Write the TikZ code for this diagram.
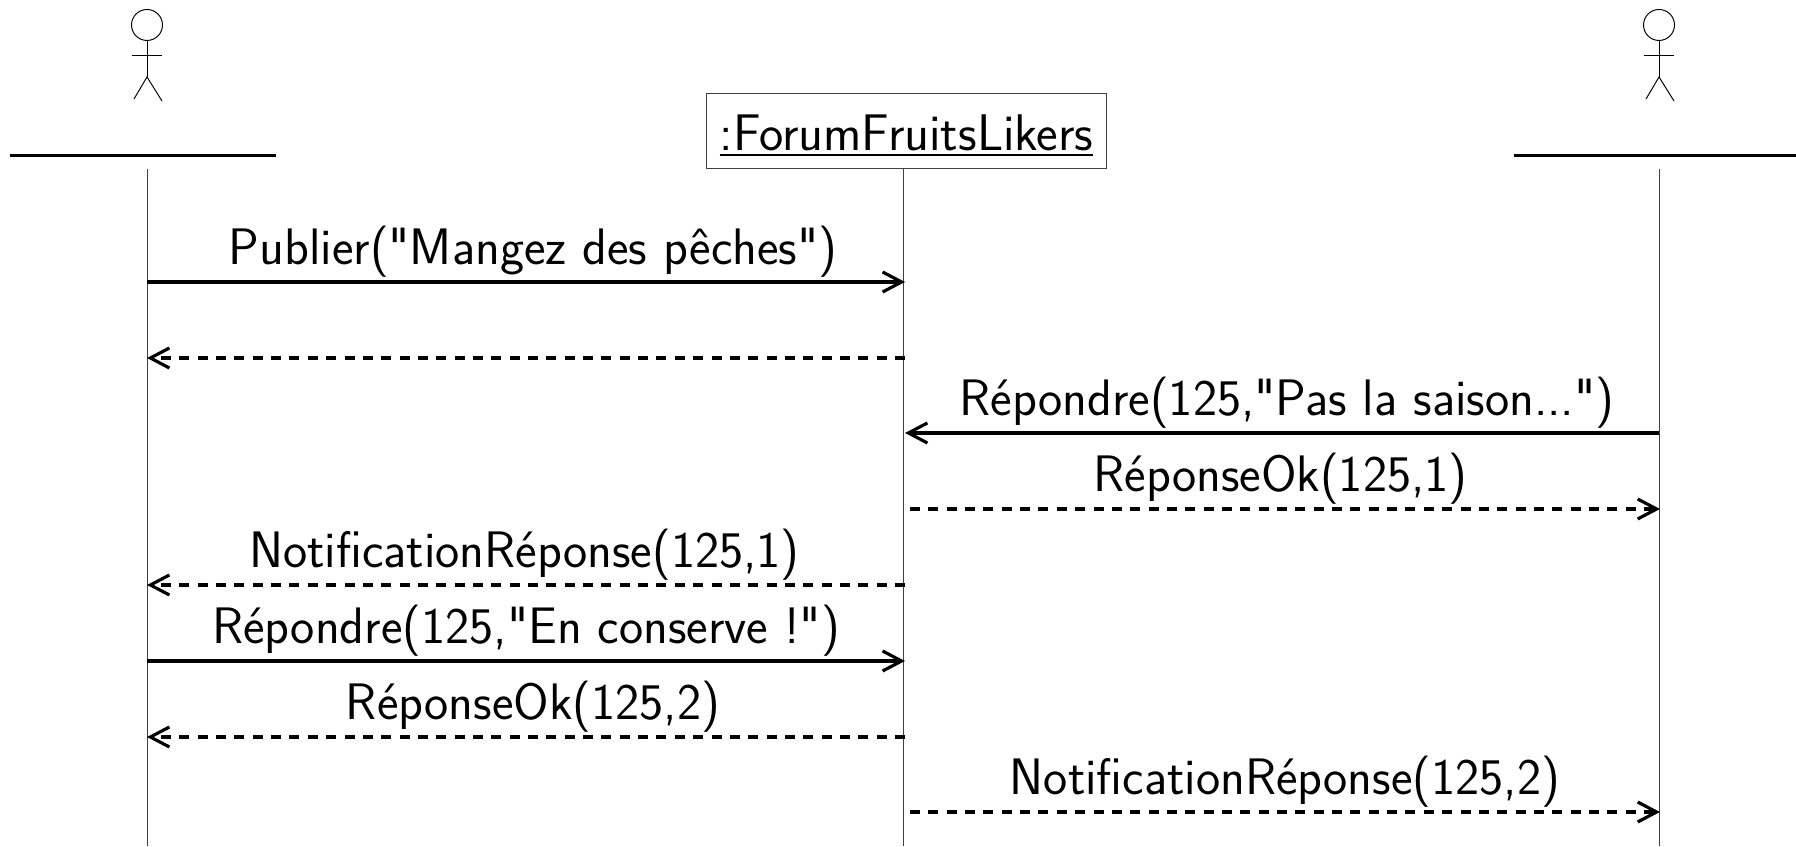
\documentclass[tikz,border=0pt]{standalone}
\usepackage{amsmath}
\usepackage{fontspec}
\usepackage{tikz}
\usetikzlibrary{arrows.meta}
\setsansfont{Latin Modern Sans}[Ligatures=TeXOff]
\renewcommand{\familydefault}{\sfdefault}

\newcommand{\objname}[1]{\setbox0=\hbox{#1}\rlap{\rule[-.12cm]{\wd0}{1.1pt}}\box0}

\tikzset{
  life/.style={line width=.5pt,black!75},
  stick/.style={line width=.55pt},
  msg/.style={line width=1.8pt,->,>={Straight Barb[length=.38cm,width=.4cm,line width=1.8pt]}},
  ret/.style={msg,dash pattern=on .2cm off .167cm},
  lbl/.style={above,inner sep=0pt,yshift=.06cm,font=\fontsize{29.2}{30}\selectfont}
}

\begin{document}
\begin{tikzpicture}[scale=1,auto=center]
  \useasboundingbox (0,0) rectangle (35.92,16.92);
  % actors
  \foreach \x/\n in {2.94/l,33.18/r} {
    \node[circle,draw,stick,minimum size=.62cm,inner sep=0pt] (head\n) at (\x,16.42) {};
    \coordinate (hip\n) at (\x,15.38);
    \coordinate (armA\n) at (\x-.3,15.82);
    \coordinate (armB\n) at (\x+.3,15.82);
    \coordinate (footA\n) at (\x-.26,14.94);
    \coordinate (footB\n) at (\x+.3,14.9);
    \draw[stick] (head\n) -- (hip\n);
    \draw[stick] (armA\n) -- (armB\n);
    \draw[stick] (footA\n) -- (hip\n) -- (footB\n);
  }
  \coordinate (nameA) at (.2,13.81);
  \coordinate (nameB) at (5.52,13.81);
  \coordinate (nameC) at (30.28,13.81);
  \coordinate (nameD) at (35.92,13.81);
  \draw[line width=1.2pt] (nameA) -- (nameB);
  \draw[line width=1.2pt] (nameC) -- (nameD);
  \node[draw,life,text=black,minimum width=8cm,inner sep=0pt,text height=1.14cm,text depth=.37cm,font=\fontsize{29.3}{30}\selectfont] (forum) at (18.13,14.3) {\objname{:ForumFruitsLikers}};
  % lifelines
  \coordinate (lTop) at (2.94,13.54);
  \coordinate (lEnd) at (2.94,0);
  \coordinate (fTop) at (18.06,13.54);
  \coordinate (fEnd) at (18.06,0);
  \coordinate (rTop) at (33.18,13.54);
  \coordinate (rEnd) at (33.18,0);
  \draw[life] (lTop) -- (lEnd);
  \draw[life] (fTop) -- (fEnd);
  \draw[life] (rTop) -- (rEnd);
  % messages
  \coordinate (m1a) at (2.94,11.28);
  \coordinate (m1b) at (18.1,11.28);
  \coordinate (m2a) at (18.1,9.76);
  \coordinate (m2b) at (2.94,9.76);
  \coordinate (m3a) at (33.18,8.26);
  \coordinate (m3b) at (18.1,8.26);
  \coordinate (m4a) at (18.2,6.74);
  \coordinate (m4b) at (33.2,6.74);
  \coordinate (m5a) at (18.1,5.22);
  \coordinate (m5b) at (2.94,5.22);
  \coordinate (m6a) at (2.94,3.7);
  \coordinate (m6b) at (18.1,3.7);
  \coordinate (m7a) at (18.1,2.18);
  \coordinate (m7b) at (2.94,2.18);
  \coordinate (m8a) at (18.2,.68);
  \coordinate (m8b) at (33.2,.68);
  \draw[msg] (m1a) -- node[lbl,xshift=.14cm] (pub) {Publier("Mangez des pêches")} (m1b);
  \draw[ret] (m2a) -- (m2b);
  \draw[msg] (m3a) -- node[lbl,xshift=.1cm] (repA) {Répondre(125,"Pas la saison...")} (m3b);
  \draw[ret] (m4a) -- node[lbl,xshift=-.09cm] (okA) {RéponseOk(125,1)} (m4b);
  \draw[ret] (m5a) -- node[lbl,xshift=-.03cm] (notA) {NotificationRéponse(125,1)} (m5b);
  \draw[msg] (m6a) -- node[lbl] (repB) {Répondre(125,"En conserve !")} (m6b);
  \draw[ret] (m7a) -- node[lbl,xshift=.14cm] (okB) {RéponseOk(125,2)} (m7b);
  \draw[ret] (m8a) -- node[lbl] (notB) {NotificationRéponse(125,2)} (m8b);
\end{tikzpicture}
\end{document}
